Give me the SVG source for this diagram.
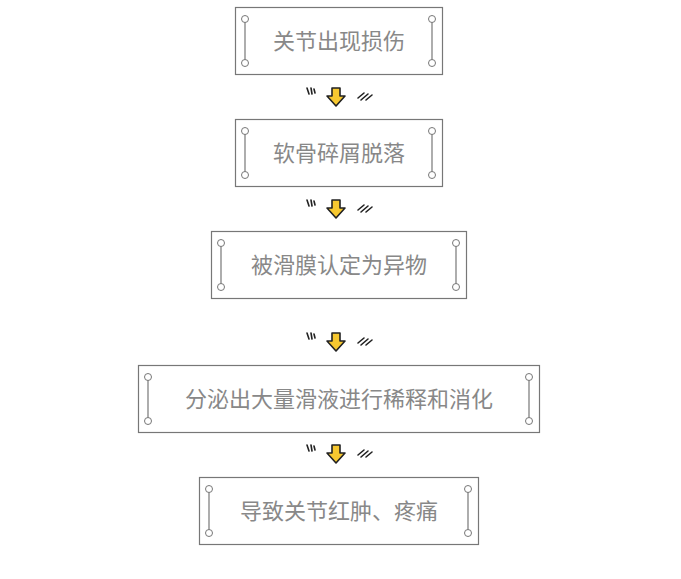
<svg xmlns="http://www.w3.org/2000/svg" width="681" height="579" viewBox="0 0 681 579">
<style>
.box{fill:#fff;stroke:#777;stroke-width:1.2}
.bar{stroke:#777;stroke-width:1.2}
.dot{fill:#fff;stroke:#777;stroke-width:1}
.t{font-family:"Noto Sans CJK SC",sans-serif;font-size:22px;fill:#888;text-anchor:middle}
.arr{fill:#f7c830;stroke:#222;stroke-width:1.6;stroke-linejoin:round}
.tk{stroke:#222;stroke-width:1.6;stroke-linecap:round;fill:none}
</style>
<defs>
<g id="arrow">
<path class="arr" d="M-4,-9 H4 V-1 H9 L0,9 L-9,-1 H-4 Z"/>
<path class="tk" d="M-29,-9 L-27,-3 M-25,-9 L-24,-3 M-22,-8 L-21,-4 M22,1 L28,-4 M25,3 L32,-3 M30,3 L36,-2"/>
</g>
</defs>
<g id="n1"><rect class="box" x="235.5" y="7.5" width="207" height="67"/>
<line class="bar" x1="245" y1="22" x2="245" y2="60"/><line class="bar" x1="432" y1="22" x2="432" y2="60"/>
<circle class="dot" cx="245" cy="19" r="3.5"/><circle class="dot" cx="245" cy="63" r="3.5"/><circle class="dot" cx="432" cy="19" r="3.5"/><circle class="dot" cx="432" cy="63" r="3.5"/>
<text class="t" x="339" y="49">关节出现损伤</text></g>
<g id="n2"><rect class="box" x="235.5" y="119.5" width="207" height="67"/>
<line class="bar" x1="245" y1="134" x2="245" y2="172"/><line class="bar" x1="432" y1="134" x2="432" y2="172"/>
<circle class="dot" cx="245" cy="131" r="3.5"/><circle class="dot" cx="245" cy="175" r="3.5"/><circle class="dot" cx="432" cy="131" r="3.5"/><circle class="dot" cx="432" cy="175" r="3.5"/>
<text class="t" x="339" y="161">软骨碎屑脱落</text></g>
<g id="n3"><rect class="box" x="211.5" y="231.5" width="255" height="67"/>
<line class="bar" x1="221" y1="246" x2="221" y2="284"/><line class="bar" x1="456" y1="246" x2="456" y2="284"/>
<circle class="dot" cx="221" cy="243" r="3.5"/><circle class="dot" cx="221" cy="287" r="3.5"/><circle class="dot" cx="456" cy="243" r="3.5"/><circle class="dot" cx="456" cy="287" r="3.5"/>
<text class="t" x="339" y="273">被滑膜认定为异物</text></g>
<g id="n4"><rect class="box" x="138.5" y="365.5" width="401" height="67"/>
<line class="bar" x1="148" y1="380" x2="148" y2="418"/><line class="bar" x1="529" y1="380" x2="529" y2="418"/>
<circle class="dot" cx="148" cy="377" r="3.5"/><circle class="dot" cx="148" cy="421" r="3.5"/><circle class="dot" cx="529" cy="377" r="3.5"/><circle class="dot" cx="529" cy="421" r="3.5"/>
<text class="t" x="339" y="407">分泌出大量滑液进行稀释和消化</text></g>
<g id="n5"><rect class="box" x="199.5" y="477.5" width="279" height="67"/>
<line class="bar" x1="209" y1="492" x2="209" y2="530"/><line class="bar" x1="468" y1="492" x2="468" y2="530"/>
<circle class="dot" cx="209" cy="489" r="3.5"/><circle class="dot" cx="209" cy="533" r="3.5"/><circle class="dot" cx="468" cy="489" r="3.5"/><circle class="dot" cx="468" cy="533" r="3.5"/>
<text class="t" x="339" y="519">导致关节红肿、疼痛</text></g>
<g id="connectors">
<use href="#arrow" transform="translate(336,97)"/>
<use href="#arrow" transform="translate(336,209)"/>
<use href="#arrow" transform="translate(336,342)"/>
<use href="#arrow" transform="translate(336,454)"/>
</g>
</svg>
